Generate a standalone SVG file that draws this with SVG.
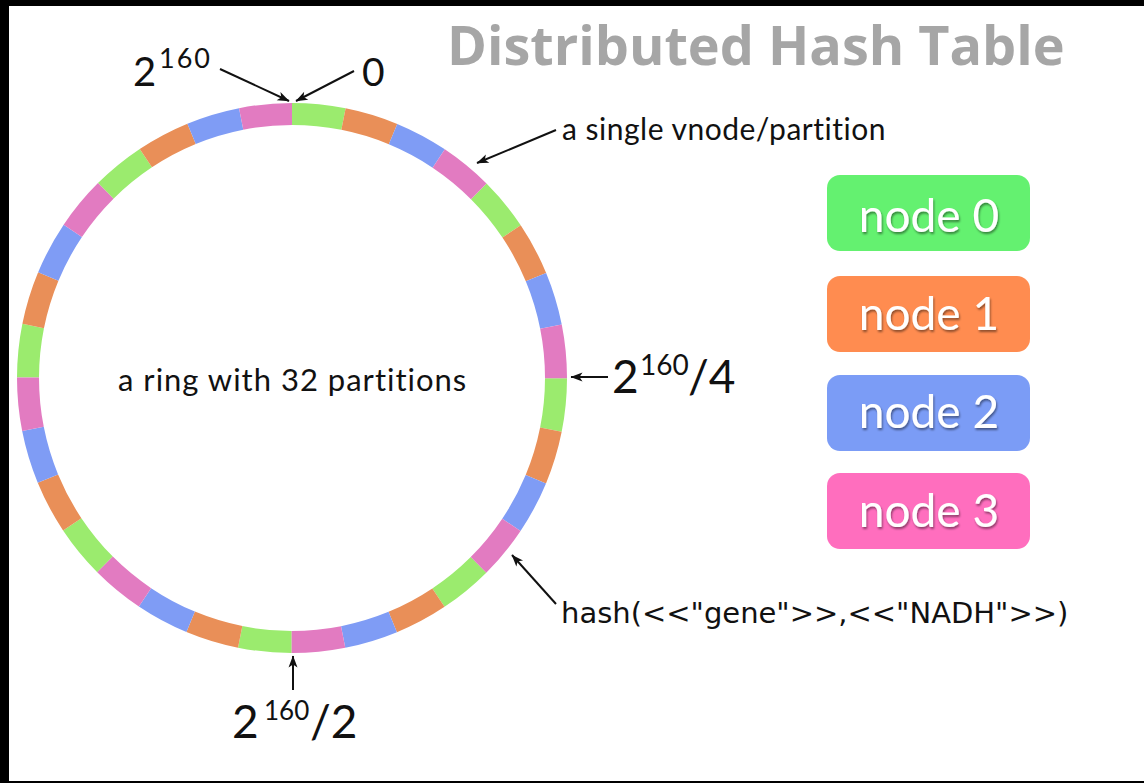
<svg xmlns="http://www.w3.org/2000/svg" width="1144" height="783" viewBox="0 0 1144 783">
  <style>
    .gill { font-family: Lato, "Open Sans", "Liberation Sans", sans-serif; fill: #111; }
    .title { font-family: "Open Sans", "Liberation Sans", sans-serif; font-weight: 700; fill: #A6A6A6; }
    .hash { font-family: "DejaVu Sans", "Noto Sans", "Liberation Sans", sans-serif; fill: #111; }
    .legend-text { font-family: Lato, "Open Sans", sans-serif; fill: #ffffff; text-anchor: middle; }
    .arrow { stroke: #111; stroke-width: 2; fill: none; marker-end: url(#head); }
    .seg { fill: none; stroke-width: 22; stroke-dasharray: 51.8363 155.5088; }
  </style>
  <defs>
    <marker id="head" viewBox="0 0 12 10" refX="11.5" refY="5" markerWidth="6.5" markerHeight="5" orient="auto" markerUnits="strokeWidth">
      <path d="M0,0.5 L12,5 L0,9.5 L3,5 z" fill="#111"/>
    </marker>
    <filter id="shadow" x="-10%" y="-20%" width="120%" height="150%">
      <feDropShadow dx="1" dy="2" stdDeviation="1.2" flood-color="#000" flood-opacity="0.45"/>
    </filter>
  </defs>

  <rect x="0" y="0" width="1144" height="783" fill="#000"/>
  <rect x="9" y="6" width="1135" height="775" fill="#fff"/>

  <text class="title" x="447" y="65" font-size="54">Distributed Hash Table</text>

  <g id="ring" transform="rotate(-90 292 378)">
    <circle class="seg" cx="292" cy="378" r="264" stroke="#9BEB6E" stroke-dashoffset="0"/>
    <circle class="seg" cx="292" cy="378" r="264" stroke="#E98F58" stroke-dashoffset="-51.8363"/>
    <circle class="seg" cx="292" cy="378" r="264" stroke="#7F9CF5" stroke-dashoffset="-103.6726"/>
    <circle class="seg" cx="292" cy="378" r="264" stroke="#E27BC1" stroke-dashoffset="-155.5088"/>
  </g>

  <g id="ring-label">
    <text class="gill" x="118" y="391" font-size="31" letter-spacing="1">a ring with 32 partitions</text>
  </g>

  <g id="label-top-max">
    <text class="gill" x="133" y="86" font-size="40">2</text>
    <text class="gill" x="159" y="68" font-size="27" letter-spacing="2">160</text>
  </g>
  <g id="label-top-zero">
    <text class="gill" x="362" y="86" font-size="39">0</text>
  </g>
  <g id="label-quarter">
    <text class="gill" x="612" y="393" font-size="46">2</text>
    <text class="gill" x="640" y="375" font-size="28">160</text>
    <text class="gill" x="688" y="393" font-size="46">/4</text>
  </g>
  <g id="label-half">
    <text class="gill" x="232" y="738" font-size="46">2</text>
    <text class="gill" x="264" y="720" font-size="26">160</text>
    <text class="gill" x="310" y="738" font-size="46">/2</text>
  </g>
  <g id="label-vnode">
    <text class="gill" x="562" y="140" font-size="30" letter-spacing="0.5">a single vnode/partition</text>
  </g>
  <g id="label-hash">
    <text class="hash" x="561" y="623" font-size="29">hash(&lt;&lt;"gene"&gt;&gt;,&lt;&lt;"NADH"&gt;&gt;)</text>
  </g>

  <g id="connectors">
    <line class="arrow" x1="220" y1="69" x2="289" y2="101"/>
    <line class="arrow" x1="354" y1="71" x2="296" y2="101"/>
    <line class="arrow" x1="556" y1="130" x2="477" y2="163"/>
    <line class="arrow" x1="608" y1="377" x2="571" y2="377"/>
    <line class="arrow" x1="293" y1="690" x2="293" y2="656"/>
    <line class="arrow" x1="556" y1="604" x2="512" y2="555"/>
  </g>

  <g id="node0">
    <rect x="827" y="175" width="203" height="76" rx="13" fill="#64F170"/>
    <text class="legend-text" x="929" y="232" font-size="46" filter="url(#shadow)">node 0</text>
  </g>
  <g id="node1">
    <rect x="827" y="276" width="203" height="76" rx="13" fill="#FF8C50"/>
    <text class="legend-text" x="929" y="330" font-size="46" filter="url(#shadow)">node 1</text>
  </g>
  <g id="node2">
    <rect x="827" y="375" width="203" height="76" rx="13" fill="#7B9CF6"/>
    <text class="legend-text" x="929" y="428" font-size="46" filter="url(#shadow)">node 2</text>
  </g>
  <g id="node3">
    <rect x="827" y="473" width="203" height="76" rx="13" fill="#FF6EBE"/>
    <text class="legend-text" x="929" y="527" font-size="46" filter="url(#shadow)">node 3</text>
  </g>
</svg>
